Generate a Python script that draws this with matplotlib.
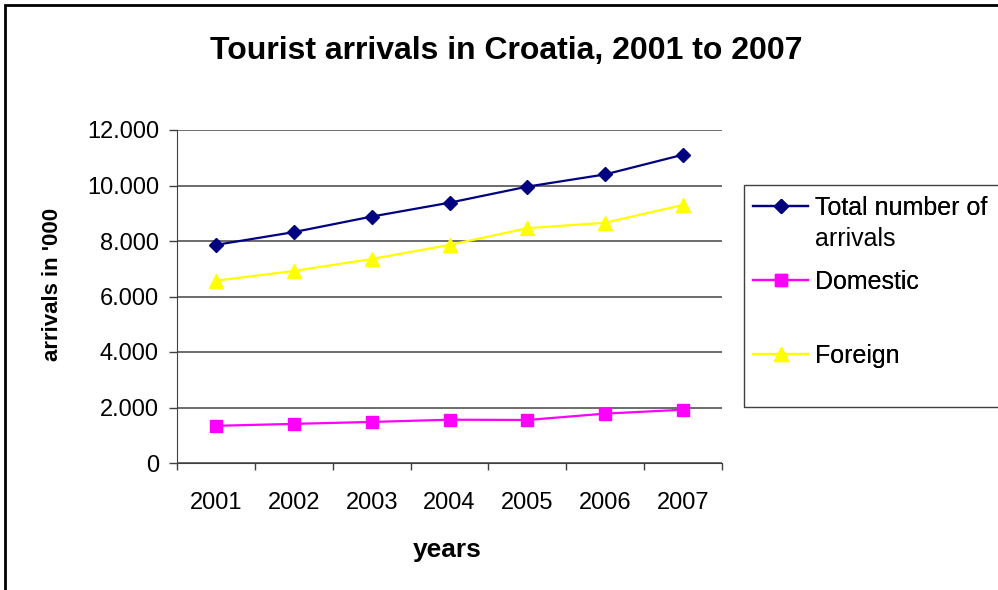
import matplotlib
matplotlib.use('Agg')
import matplotlib.pyplot as plt
from matplotlib.ticker import FuncFormatter
from matplotlib.patches import Rectangle

plt.rcParams['font.family'] = ['Liberation Sans', 'DejaVu Sans']

years = ['2001', '2002', '2003', '2004', '2005', '2006', '2007']
total = [7860, 8320, 8880, 9380, 9960, 10400, 11110]
domestic = [1340, 1410, 1480, 1560, 1550, 1780, 1920]
foreign = [6570, 6920, 7350, 7860, 8460, 8660, 9300]
y_ticks = [0, 2000, 4000, 6000, 8000, 10000, 12000]

SERIES = [
    ('Total number of', total, '#000080', 'D', 7.5),
    ('Domestic', domestic, '#FF00FF', 's', 8),
    ('Foreign', foreign, '#FFFF00', '^', 10),
]

W, H = 998, 590
fig = plt.figure(figsize=(W / 100, H / 100), dpi=100)
ax = fig.add_axes([177 / W, 1 - 463 / H, 545 / W, 333 / H])

x = list(range(len(years)))
handles = []
for label, vals, color, marker, ms in SERIES:
    h, = ax.plot(x, vals, color=color, marker=marker, markersize=ms,
                 linewidth=1.6, label=label, clip_on=False, zorder=3)
    handles.append(h)

ax.set_xlim(-0.5, len(years) - 0.5)
ax.set_ylim(0, 12000)
ax.set_yticks(y_ticks)
ax.yaxis.set_major_formatter(FuncFormatter(lambda v, p: f"{int(v):,}".replace(',', '.')))
ax.set_xticks(x)
ax.set_xticklabels(years)
ax.set_xticks([i - 0.5 for i in range(len(years) + 1)], minor=True)
ax.tick_params(axis='x', which='major', length=0, pad=21, labelsize=17)
ax.tick_params(axis='x', which='minor', length=5, width=1, color='#404040')
ax.tick_params(axis='y', length=6, width=1, color='#404040', labelsize=17, pad=7)
ax.grid(True, axis='y', color='#606060', linewidth=1.3, zorder=1)
for side in ['top', 'right']:
    ax.spines[side].set_visible(False)
ax.spines['left'].set_color('#404040')
ax.spines['bottom'].set_color('#404040')

ax.set_ylabel("arrivals in '000", fontsize=16, fontweight='bold', va='baseline')
ax.yaxis.set_label_coords((58 - 177) / 545, (463 - 284) / 333)
ax.set_xlabel('years', fontsize=19, fontweight='bold', va='baseline')
ax.xaxis.set_label_coords((447 - 177) / 545, (463 - 557) / 333)
fig.text(506 / W, 1 - 59 / H, 'Tourist arrivals in Croatia, 2001 to 2007',
         ha='center', va='baseline', fontsize=23, fontweight='bold')

# legend box, one legend per entry to follow the uneven spacing of the original
fig.patches.append(Rectangle((744 / W, 1 - 407 / H), 0.3, 222 / H,
                             transform=fig.transFigure, fill=False,
                             edgecolor='#404040', linewidth=1))
for h, ypix in zip(handles, [208, 282, 356]):
    leg = fig.legend(handles=[h], loc='center left',
                     bbox_to_anchor=(753 / W, 1 - ypix / H), frameon=False,
                     fontsize=18, handlelength=2.2, handletextpad=0.28,
                     borderpad=0, borderaxespad=0)
    fig.add_artist(leg)
fig.text(815 / W, 1 - 246 / H, 'arrivals', fontsize=18, va='baseline')

# outer chart border
fig.patches.append(Rectangle((5 / W, -0.1), 1.2, 1.1 - 5 / H,
                             transform=fig.transFigure, fill=False,
                             edgecolor='black', linewidth=2))

fig.savefig('out.png', dpi=100)
plt.close()
